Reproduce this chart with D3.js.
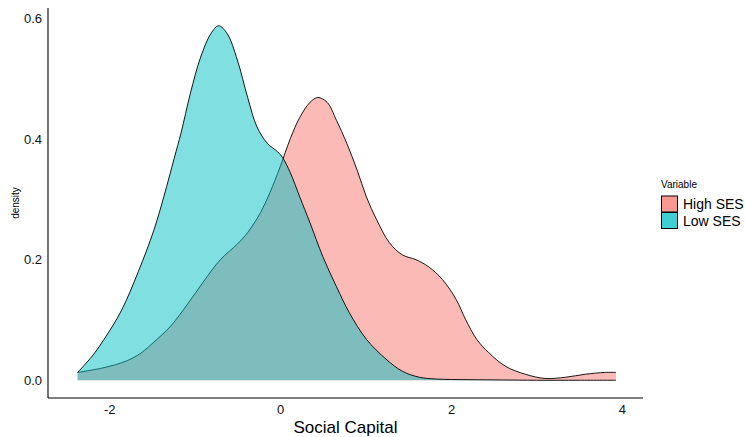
<!DOCTYPE html>
<html><head><meta charset="utf-8">
<script src="https://cdn.jsdelivr.net/npm/d3@7"></script>
<style>body{margin:0;background:#fff;} text{font-family:"Liberation Sans",Arial,sans-serif;}</style>
</head><body>
<svg id="c" width="745" height="437"></svg>
<script>
const seriesNames = ["High SES", "Low SES"];
const seriesColors = ["#F8766D", "#00BFC4"];
const highX = [-2.37,-2.06,-1.80,-1.63,-1.48,-1.28,-1.08,-0.90,-0.70,-0.50,-0.38,-0.23,-0.12,0.00,0.12,0.23,0.35,0.44,0.55,0.66,0.78,0.90,1.01,1.13,1.28,1.43,1.59,1.74,1.90,2.06,2.17,2.30,2.44,2.64,2.87,3.10,3.34,3.57,3.80,3.93];
const highY = [0.013,0.021,0.032,0.045,0.063,0.090,0.127,0.163,0.200,0.226,0.245,0.278,0.311,0.354,0.401,0.436,0.461,0.469,0.461,0.431,0.393,0.349,0.304,0.266,0.228,0.208,0.200,0.188,0.167,0.134,0.101,0.068,0.046,0.023,0.010,0.003,0.005,0.010,0.013,0.013];
const lowX = [-2.37,-2.20,-2.06,-1.86,-1.66,-1.48,-1.36,-1.24,-1.16,-1.05,-0.93,-0.81,-0.72,-0.62,-0.50,-0.38,-0.27,-0.15,-0.03,0.03,0.12,0.23,0.35,0.50,0.66,0.81,1.01,1.24,1.43,1.63,1.83,2.2,2.6,3.0,3.5,3.93];
const lowY = [0.013,0.040,0.068,0.115,0.180,0.248,0.305,0.368,0.410,0.476,0.536,0.575,0.588,0.575,0.531,0.469,0.420,0.393,0.379,0.369,0.344,0.304,0.261,0.205,0.155,0.112,0.068,0.035,0.015,0.005,0.002,0.001,0.0005,0,0,0];
const xTicks = [-2, 0, 2, 4];
const yTicks = [0.0, 0.2, 0.4, 0.6];
const xTitle = "Social Capital", yTitle = "density", legendTitle = "Variable";

const svg = d3.select("#c");
const L = 48, R = 643, T = 8, B = 398;
const x = d3.scaleLinear().domain([-2.7165, 4.2465]).range([L, R]);
const y = d3.scaleLinear().domain([-0.0294, 0.6174]).range([B, T]);

const series = [
  {name: seriesNames[0], color: seriesColors[0], pts: highX.map((v,i)=>[v, highY[i]])},
  {name: seriesNames[1], color: seriesColors[1], pts: lowX.map((v,i)=>[v, lowY[i]])}
];
const curve = d3.curveCatmullRom.alpha(0.5);
const area = d3.area().x(d=>x(d[0])).y0(y(0)).y1(d=>y(Math.max(0,d[1]))).curve(curve);
const line = d3.line().x(d=>x(d[0])).y(d=>y(d[1])).curve(curve);
series.forEach(s => {
  svg.append("path").attr("d", area(s.pts)).attr("fill", s.color).attr("fill-opacity", 0.5);
  svg.append("path").attr("d", line(s.pts)).attr("fill", "none").attr("stroke", "#000").attr("stroke-width", 0.9);
});

// axes
svg.append("line").attr("x1", L).attr("x2", L).attr("y1", T).attr("y2", B).attr("stroke", "#000").attr("stroke-width", 1.1);
svg.append("line").attr("x1", L).attr("x2", R).attr("y1", B).attr("y2", B).attr("stroke", "#000").attr("stroke-width", 1.1);
const xa = d3.axisBottom(x).tickValues(xTicks).tickFormat(d => String(d)).tickSize(0).tickPadding(7);
const gx = svg.append("g").attr("transform", `translate(0,${B})`).call(xa);
gx.select(".domain").remove();
gx.selectAll("text").attr("font-size", 13).attr("fill", "#111").style("font-family", '"Liberation Sans",Arial,sans-serif');
const ya = d3.axisLeft(y).tickValues(yTicks).tickFormat(d => d.toFixed(1)).tickSize(0).tickPadding(6);
const gy = svg.append("g").attr("transform", `translate(${L},0)`).call(ya);
gy.select(".domain").remove();
gy.selectAll("text").attr("font-size", 13).attr("fill", "#111").style("font-family", '"Liberation Sans",Arial,sans-serif');

svg.append("text").attr("x", (L+R)/2).attr("y", 433).attr("text-anchor", "middle").attr("font-size", 17).text(xTitle);
svg.append("text").attr("transform", `translate(19,${(T+B)/2}) rotate(-90)`).attr("text-anchor", "middle").attr("font-size", 10).text(yTitle);

// legend
svg.append("text").attr("x", 661).attr("y", 188).attr("font-size", 10).text(legendTitle);
series.forEach((s, i) => {
  const ky = 196 + i*16.5;
  svg.append("rect").attr("x", 661.5).attr("y", ky).attr("width", 16).attr("height", 16)
    .attr("fill", s.color).attr("fill-opacity", 0.75).attr("stroke", "#000").attr("stroke-width", 1);
  svg.append("text").attr("x", 683).attr("y", ky + 13).attr("font-size", 14).text(s.name);
});
</script>
</body></html>
